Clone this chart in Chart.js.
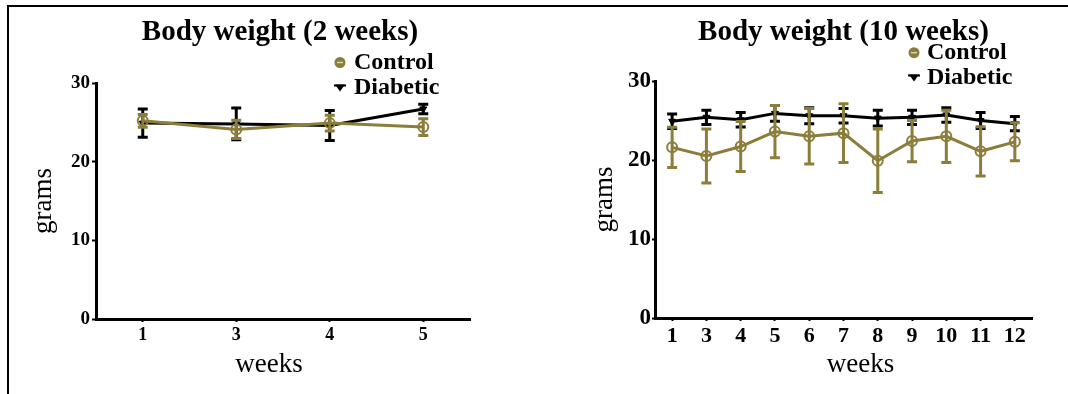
<!DOCTYPE html>
<html><head><meta charset="utf-8">
<script src="https://cdn.jsdelivr.net/npm/chart.js@4.4.1/dist/chart.umd.min.js"></script>
<style>
html,body{margin:0;padding:0;background:#fff;width:1068px;height:394px;overflow:hidden;}
#frame{position:absolute;left:7px;top:5px;width:1061px;height:389px;border-left:2px solid #000;border-top:2px solid #000;box-sizing:border-box;}
.panel{position:absolute;top:0;width:534px;height:394px;}
#p1{left:0;} #p2{left:534px;}
canvas{display:block;}
</style></head><body>
<div id="frame"></div>
<div class="panel" id="p1"><canvas id="c1" width="534" height="394"></canvas></div>
<div class="panel" id="p2"><canvas id="c2" width="534" height="394"></canvas></div>
<script>
// ---- data ----
const seriesNames = ['Control', 'Diabetic'];
const titleA = 'Body weight (2 weeks)';
const titleB = 'Body weight (10 weeks)';
const weeksA = ['1', '3', '4', '5'];
const controlA = [25.2, 24.1, 24.9, 24.4];
const controlErrA = [1.0, 1.35, 1.2, 1.25];
const diabeticA = [24.9, 24.8, 24.6, 26.7];
const diabeticErrA = [2.0, 2.2, 2.1, 0.8];

const weeksB = ['1', '3', '4', '5', '6', '7', '8', '9', '10', '11', '12'];
const controlB = [21.6, 20.5, 21.7, 23.6, 23.0, 23.4, 19.9, 22.4, 23.0, 21.1, 22.3];
const controlErrB = [2.75, 3.6, 3.35, 3.5, 3.7, 3.9, 4.2, 2.8, 3.5, 3.3, 2.6];
const diabeticB = [24.9, 25.4, 25.1, 25.9, 25.6, 25.6, 25.3, 25.4, 25.7, 25.0, 24.6];
const diabeticErrB = [1.1, 1.1, 1.1, 1.2, 1.2, 1.1, 1.2, 1.1, 1.1, 1.2, 1.1];

const yMin = 0, yMax = 30, yStep = 10;
const xTitle = 'weeks';
const yTitle = 'grams';

// ---- styles ----
const GOLD = '#8b7d3a';
const BLACK = '#000000';
const SERIF = '"Liberation Serif", "Times New Roman", serif';

// error bars drawn per dataset through the chart's scales
const errorBarPlugin = {
  id: 'errorBars',
  beforeDatasetDraw(chart, args) {
    const ds = chart.data.datasets[args.index];
    if (!ds.errors) return;
    const y = chart.scales.y, meta = args.meta, ctx = chart.ctx;
    ctx.save();
    ctx.strokeStyle = ds.borderColor;
    ctx.lineWidth = 3;
    ctx.lineCap = 'butt';
    const cap = 5;
    meta.data.forEach((pt, i) => {
      const v = ds.data[i], e = ds.errors[i];
      const x = pt.x;
      const yt = y.getPixelForValue(v + e), yb = y.getPixelForValue(v - e);
      ctx.beginPath();
      ctx.moveTo(x, yt); ctx.lineTo(x, yb);
      ctx.moveTo(x - cap, yt + 1.5); ctx.lineTo(x + cap, yt + 1.5);
      ctx.moveTo(x - cap, yb - 1.5); ctx.lineTo(x + cap, yb - 1.5);
      ctx.stroke();
    });
    ctx.restore();
  }
};

// title, x-axis title and legend drawn relative to chart
const decorPlugin = {
  id: 'decor',
  afterDraw(chart, args, opts) {
    const ctx = chart.ctx, ca = chart.chartArea;
    ctx.save();
    ctx.fillStyle = '#000';
    ctx.font = 'bold 29px ' + SERIF;
    ctx.textAlign = 'center';
    ctx.textBaseline = 'middle';
    ctx.fillText(opts.title, (ca.left + ca.right) / 2 + opts.titleDx, opts.titleY);
    // x-axis title
    ctx.font = '27px ' + SERIF;
    ctx.fillText(xTitle, (ca.left + ca.right) / 2 + opts.xTitleDx, opts.xTitleY);
    // legend
    ctx.font = 'bold 24px ' + SERIF;
    ctx.textAlign = 'left';
    chart.data.datasets.forEach((ds, i) => {
      const ly = opts.legendY[i];
      const mx = opts.legendX;
      ctx.strokeStyle = ds.borderColor;
      ctx.fillStyle = ds.borderColor;
      if (i === 0) {
        ctx.beginPath(); ctx.arc(mx, ly, 5.5, 0, Math.PI * 2); ctx.fill();
        ctx.strokeStyle = '#d8d2b0';
        ctx.lineWidth = 1.5;
        ctx.beginPath(); ctx.moveTo(mx - 3, ly); ctx.lineTo(mx + 3, ly); ctx.stroke();
      } else {
        ctx.lineWidth = 2;
        ctx.beginPath(); ctx.moveTo(mx - 6, ly - 2); ctx.lineTo(mx + 6, ly - 2); ctx.stroke();
        ctx.beginPath(); ctx.moveTo(mx - 5, ly - 3); ctx.lineTo(mx + 5, ly - 3); ctx.lineTo(mx, ly + 4); ctx.closePath(); ctx.fill();
      }
      ctx.fillStyle = '#000';
      ctx.fillText(ds.label, opts.legendTextX, ly);
    });
    ctx.restore();
  }
};

function makeChart(id, labels, ctrl, ctrlErr, diab, diabErr, L) {
  return new Chart(document.getElementById(id), {
    type: 'line',
    data: {
      labels: labels,
      datasets: [
        { label: seriesNames[0], data: ctrl, errors: ctrlErr, borderColor: GOLD, backgroundColor: 'rgba(0,0,0,0)',
          borderWidth: 3, pointStyle: 'circle', pointRadius: 5, pointBorderWidth: 2, pointBorderColor: GOLD,
          pointBackgroundColor: 'rgba(0,0,0,0)', tension: 0 },
        { label: seriesNames[1], data: diab, errors: diabErr, borderColor: BLACK, backgroundColor: BLACK,
          borderWidth: 3, pointStyle: 'triangle', rotation: 180, pointRadius: 4, pointBorderWidth: 1,
          pointBorderColor: BLACK, pointBackgroundColor: BLACK, tension: 0 }
      ]
    },
    options: {
      responsive: false,
      animation: false,
      devicePixelRatio: 1,
      layout: { padding: { top: L.top, right: L.right, bottom: 0, left: 0 } },
      plugins: {
        legend: { display: false },
        title: { display: false },
        tooltip: { enabled: false },
        decor: { title: L.title, titleY: 32.5, titleDx: L.titleDx, xTitleDx: L.xTitleDx, xTitleY: 365,
                 legendX: L.legX, legendTextX: L.legTextX, legendY: L.legY }
      },
      scales: {
        x: {
          type: 'category',
          offset: true,
          afterFit(s) { s.height = L.xH; },
          border: { display: true, color: '#000', width: 3 },
          grid: { display: true, drawOnChartArea: false, drawTicks: true, tickLength: 3, tickWidth: 2, tickColor: '#000', color: '#000' },
          ticks: { color: '#000', font: { family: SERIF, size: L.xTickSize, weight: 'bold' }, padding: L.xTickPad, maxRotation: 0, autoSkip: false },
          title: { display: false }
        },
        y: {
          min: yMin, max: yMax,
          afterFit(s) { s.width = L.yW; },
          border: { display: true, color: '#000', width: 3 },
          grid: { display: true, drawOnChartArea: false, drawTicks: true, tickLength: L.yTickLen, tickWidth: 2, tickColor: '#000', color: '#000' },
          ticks: { stepSize: yStep, color: '#000', font: { family: SERIF, size: L.yTickSize, weight: 'bold' }, padding: L.yTickPad },
          title: { display: true, text: yTitle, color: '#000', font: { family: SERIF, size: 27, weight: 'normal' }, padding: { top: L.yTitlePad, bottom: 0 } }
        }
      }
    },
    plugins: [errorBarPlugin, decorPlugin]
  });
}

makeChart('c1', weeksA, controlA, controlErrA, diabeticA, diabeticErrA, {
  top: 83, right: 64, xH: 75, yW: 96, xTickSize: 18, xTickPad: 3, yTickSize: 19, yTickPad: 2, yTickLen: 4,
  yTitlePad: 28, title: titleA, titleDx: -3, xTitleDx: -14, legX: 340, legTextX: 354, legY: [62.5, 87.5]
});
makeChart('c2', weeksB, controlB, controlErrB, diabeticB, diabeticErrB, {
  top: 81, right: 36, xH: 76, yW: 121, xTickSize: 22, xTickPad: 2, yTickSize: 23, yTickPad: 1, yTickLen: 3,
  yTitlePad: 55, title: titleB, titleDx: 0, xTitleDx: 17, legX: 380, legTextX: 393, legY: [52.7, 77.5]
});
</script></body></html>
